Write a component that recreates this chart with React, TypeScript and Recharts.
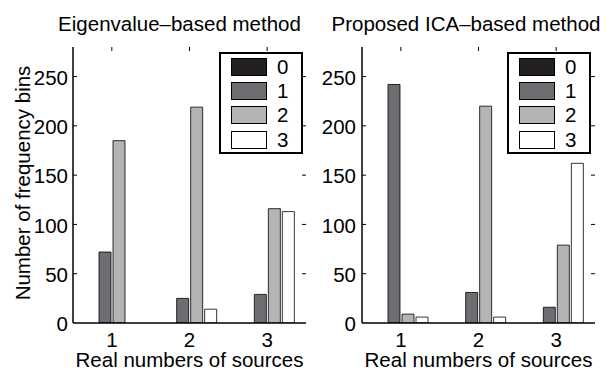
import React from 'react';
import { BarChart, Bar, XAxis, YAxis, Legend } from 'recharts';

// real number of sources (x categories)
const sourceCounts = ['1', '2', '3'];
// estimated number of sources (legend / series)
const estimatedLabels = ['0', '1', '2', '3'];
const yTicks = [0, 50, 100, 150, 200, 250];

// Eigenvalue-based method
const eigEst0 = [0, 0, 0];
const eigEst1 = [72, 25, 29];
const eigEst2 = [185, 219, 116];
const eigEst3 = [0, 14, 113];

// Proposed ICA-based method
const icaEst0 = [0, 0, 0];
const icaEst1 = [242, 31, 16];
const icaEst2 = [9, 220, 79];
const icaEst3 = [6, 6, 162];

const barColors = ['#231f20', '#6d6e71', '#b3b4b6', '#ffffff'];
const FONT = '"Liberation Sans", Arial, Helvetica, sans-serif';
const FS = 20.5;
const W = 607;
const H = 370;
const PLOT_TOP = 47;
const PLOT_BOTTOM = 323;

function buildRows(series: number[][]) {
    return sourceCounts.map((name, i) => {
        const row: any = { name };
        series.forEach((s, k) => { row['s' + k] = s[i]; });
        return row;
    });
}

const eigRows = buildRows([eigEst0, eigEst1, eigEst2, eigEst3]);
const icaRows = buildRows([icaEst0, icaEst1, icaEst2, icaEst3]);

function LegendBox() {
    return (
        <div style={{ boxSizing: 'border-box', width: 84, height: 102, border: '2px solid #000', background: '#fff', position: 'relative', fontFamily: FONT, fontSize: FS, color: '#000' }}>
            {estimatedLabels.map((lab, i) => (
                <div key={lab} style={{ position: 'absolute', left: 10, top: 4 + i * 24.2, height: 18, width: 70 }}>
                    <div style={{ position: 'absolute', left: 0, top: 0, width: 36, height: 18, boxSizing: 'border-box', background: barColors[i], border: '1px solid #000' }} />
                    <span style={{ position: 'absolute', left: 46, top: 0, lineHeight: '18px' }}>{lab}</span>
                </div>
            ))}
        </div>
    );
}

interface PanelProps {
    rows: any[];
    plotLeft: number;
    plotRight: number;
    yAxisWidth: number;
    tickMargin: number;
    legendLeft: number;
    yLabel?: string;
}

function Panel({ rows, plotLeft, plotRight, yAxisWidth, tickMargin, legendLeft, yLabel }: PanelProps) {
    const renderYTick = (p: any) => {
        const { x, y, payload } = p;
        return (
            <g>
                <text x={x} y={y} dy="0.4em" textAnchor="end" fontFamily={FONT} fontSize={FS} fill="#000">{payload.value}</text>
                {payload.value > 0 && (
                    <>
                        <line x1={plotLeft} x2={plotLeft + 4} y1={y} y2={y} stroke="#000" strokeWidth={1} />
                        <line x1={plotRight - 4} x2={plotRight} y1={y} y2={y} stroke="#000" strokeWidth={1} />
                    </>
                )}
            </g>
        );
    };
    const renderXTick = (p: any) => {
        const { x, y, payload } = p;
        return (
            <g>
                <text x={x} y={y} dy="0.71em" textAnchor="middle" fontFamily={FONT} fontSize={FS} fill="#000">{payload.value}</text>
                <line x1={x} x2={x} y1={PLOT_TOP} y2={PLOT_TOP + 4} stroke="#000" strokeWidth={1} />
            </g>
        );
    };
    const renderYLabel = (p: any) => {
        const vb = p.viewBox;
        const cx = vb.x + 23;
        const cy = vb.y + vb.height / 2 - 2;
        return (
            <text x={cx} y={cy} dy="0.355em" textAnchor="middle" transform={`rotate(-90, ${cx}, ${cy})`} fontFamily={FONT} fontSize={FS} fill="#000">
                {yLabel}
            </text>
        );
    };
    return (
        <div style={{ position: 'absolute', left: 0, top: 0 }}>
            <BarChart
                width={W}
                height={H}
                data={rows}
                barGap={2}
                margin={{ top: PLOT_TOP, right: W - plotRight, left: plotLeft - yAxisWidth, bottom: 0 }}
            >
                <XAxis
                    dataKey="name"
                    height={H - PLOT_BOTTOM}
                    tickSize={0}
                    tickMargin={9}
                    interval={0}
                    axisLine={{ stroke: '#000', strokeWidth: 1.5 }}
                    tick={renderXTick}
                    label={{ value: 'Real numbers of sources', position: 'insideBottom', offset: 3.5, fill: '#000', fontSize: FS, fontFamily: FONT }}
                />
                <XAxis xAxisId="top" dataKey="name" orientation="top" height={0} tick={false} tickLine={false} axisLine={{ stroke: '#000', strokeWidth: 1.5 }} />
                <YAxis
                    domain={[0, 280]}
                    ticks={yTicks}
                    interval={0}
                    width={yAxisWidth}
                    tickSize={0}
                    tickMargin={tickMargin}
                    axisLine={{ stroke: '#000', strokeWidth: 1.5 }}
                    tick={renderYTick}
                    allowDataOverflow
                    label={yLabel ? { content: renderYLabel } : undefined}
                />
                <YAxis yAxisId="right" orientation="right" domain={[0, 280]} width={0} tick={false} tickLine={false} axisLine={{ stroke: '#000', strokeWidth: 1.5 }} />
                <Legend
                    layout="vertical"
                    align="center"
                    verticalAlign="middle"
                    content={() => <LegendBox />}
                    wrapperStyle={{ position: 'absolute', left: legendLeft, top: 52, width: 84, height: 102 }}
                />
                {estimatedLabels.map((lab, k) => (
                    <Bar
                        key={lab}
                        dataKey={'s' + k}
                        name={lab}
                        fill={barColors[k]}
                        stroke="#000"
                        strokeWidth={0.8}
                        barSize={12}
                        isAnimationActive={false}
                    />
                ))}
            </BarChart>
        </div>
    );
}

export default function App() {
    const titleStyle: React.CSSProperties = {
        position: 'absolute', top: 12, width: 320, textAlign: 'center',
        fontFamily: FONT, fontSize: FS, lineHeight: '24px', color: '#000', whiteSpace: 'nowrap',
    };
    return (
        <div style={{ position: 'absolute', left: 0, top: 0, width: W, height: H, background: '#fff', overflow: 'hidden' }}>
            <Panel rows={eigRows} plotLeft={73} plotRight={306} yAxisWidth={73} tickMargin={5} legendLeft={219} yLabel="Number of frequency bins" />
            <Panel rows={icaRows} plotLeft={362} plotRight={595} yAxisWidth={60} tickMargin={6} legendLeft={507} />
            <div style={{ ...titleStyle, left: 179.5 - 160 }}>Eigenvalue–based method</div>
            <div style={{ ...titleStyle, left: 466 - 160 }}>Proposed ICA–based method</div>
        </div>
    );
}
